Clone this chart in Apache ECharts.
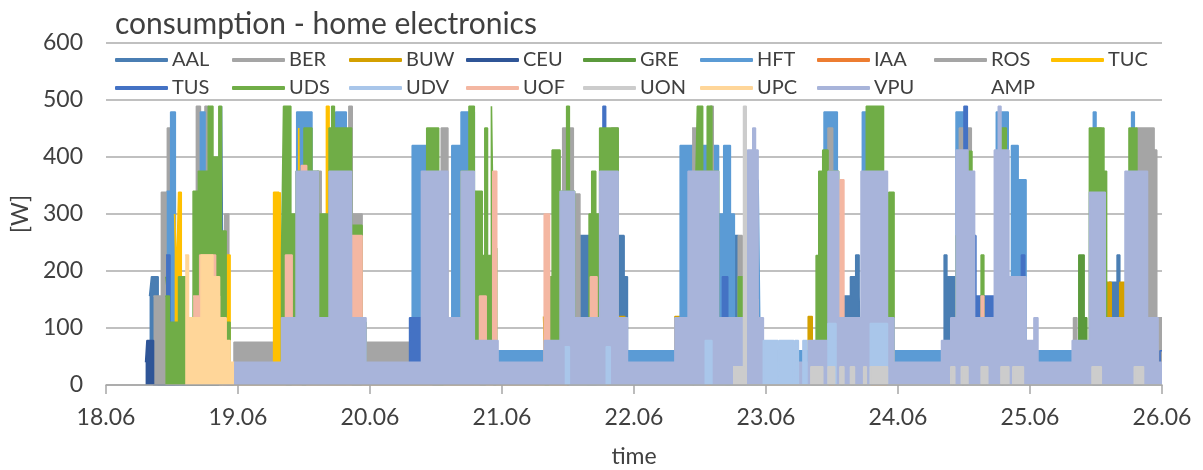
<!DOCTYPE html>
<html>
<head>
<meta charset="utf-8">
<script src="https://cdn.jsdelivr.net/npm/echarts@6/dist/echarts.min.js"></script>
<style>
  html, body { margin: 0; padding: 0; background: #ffffff; }
  #chart { width: 1203px; height: 470px; }
</style>
</head>
<body>
<div id="chart"></div>
<script>
// x values are days counted from 18.06 00:00, y values are watts.
// Each pair [t, w] means: from time t on, the device draws w watts.
const DAY_LABELS = ['18.06', '19.06', '20.06', '21.06', '22.06', '23.06', '24.06', '25.06', '26.06'];
const SITES = ['AAL', 'BER', 'BUW', 'CEU', 'GRE', 'HFT', 'IAA', 'ROS', 'TUC',
               'TUS', 'UDS', 'UDV', 'UOF', 'UON', 'UPC', 'VPU', 'AMP'];

const AAL = [[0.33,156],[0.345,190],[0.395,0],[3.59,262],[3.665,227],[3.69,118],[3.72,0],
  [3.88,262],[3.925,190],[3.95,0],[4.745,262],[4.79,0],[5.59,156],[5.64,190],[5.68,228],
  [5.705,156],[5.72,0],[6.35,228],[6.37,190],[6.44,0],[7.60,180],[7.66,228],[7.68,0],[8,0]];
const BER = [[0.36,156],[0.42,338],[0.465,451],[0.485,338],[0.525,0],[0.57,190],[0.60,0],
  [0.685,489],[0.715,0],[0.75,489],[0.775,0],[0.90,300],[0.93,0],[0.97,75],[1.27,0],
  [1.60,375],[1.63,0],[1.84,489],[1.865,300],[1.94,0],[1.97,75],[2.30,0],[2.54,451],[2.59,0],
  [3.46,451],[3.54,0],[3.55,335],[3.59,0],[3.83,451],[3.88,0],[8,0]];
const BUW = [[3.315,120],[3.33,0],[3.89,120],[3.93,0],[4.31,120],[4.35,0],[5.32,120],[5.35,0],
  [5.91,120],[5.93,0],[6.61,120],[6.63,0],[7.57,180],[7.615,100],[7.68,180],[7.72,0],[8,0]];
const CEU = [[0.30,40],[0.31,78],[0.36,0],[8,0]];
const GRE = [[0.455,190],[0.47,150],[0.52,0],[7.37,228],[7.41,118],[7.43,0],[8,0]];
const HFT = [[0.46,340],[0.49,479],[0.525,0],[0.715,479],[0.75,0],[1.445,479],[1.56,0],
  [1.74,479],[1.82,0],[2.32,420],[2.43,0],[2.62,420],[2.69,479],[2.79,0],[2.97,60],
  [4.35,420],[4.48,60],[4.52,420],[4.64,300],[4.68,420],[4.73,300],[4.76,60],[4.94,360],
  [4.955,60],[5.44,479],[5.54,60],[5.73,479],[5.78,60],[6.44,479],[6.50,60],[6.745,479],
  [6.835,60],[6.86,420],[6.91,360],[6.97,60],[7.48,479],[7.50,60],[7.77,479],[7.79,60],[8,60]];
const IAA = [];
const ROS = [[4.44,451],[4.48,0],[4.58,489],[4.60,0],[4.79,262],[4.82,0],[5.47,451],[5.505,0],
  [6.465,451],[6.555,0],[7.33,118],[7.355,0],[7.49,451],[7.54,0],[7.81,451],[7.94,412],
  [7.96,118],[8,118]];
const TUC = [[0.52,300],[0.535,190],[0.55,338],[0.57,118],[0.60,0],[0.91,228],[0.94,0],
  [1.27,338],[1.31,190],[1.32,338],[1.335,0],[1.46,451],[1.475,0],[1.60,190],[1.63,0],
  [1.67,489],[1.69,190],[1.70,0],[8,0]];
const TUS = [[0.455,228],[0.485,0],[0.55,78],[0.585,0],[0.875,489],[0.89,0],[2.30,118],[2.39,0],
  [3.765,489],[3.785,0],[4.67,190],[4.71,0],[6.50,489],[6.525,0],[6.57,262],[6.59,156],
  [6.74,0],[6.935,228],[6.96,0],[7.985,60],[8,60]];
const UDS = [[0.45,156],[0.48,110],[0.55,190],[0.62,110],[0.66,340],[0.70,375],[0.775,489],
  [0.81,400],[0.855,489],[0.875,270],[0.91,110],[0.94,0],
  [1.33,228],[1.345,489],[1.40,300],[1.44,375],[1.50,451],[1.56,375],[1.61,300],[1.69,451],
  [1.71,489],[1.73,451],[1.86,280],[1.94,110],[1.97,0],
  [2.43,451],[2.52,0],[2.69,375],[2.75,489],[2.79,340],[2.85,227],[2.87,451],[2.89,227],
  [2.92,489],[2.935,240],[2.96,0],
  [3.36,190],[3.38,412],[3.44,340],[3.49,489],[3.51,340],[3.55,0],[3.66,300],[3.68,375],
  [3.71,300],[3.74,451],[3.88,0],
  [4.47,375],[4.48,489],[4.52,375],[4.555,489],[4.59,375],[4.64,0],[4.79,190],[4.83,0],
  [5.38,227],[5.40,375],[5.43,412],[5.47,375],[5.55,0],[5.74,375],[5.76,489],[5.89,265],
  [5.93,338],[5.97,0],
  [6.44,262],[6.48,410],[6.56,0],[6.63,228],[6.65,0],[6.78,451],[6.82,0],
  [7.45,451],[7.56,375],[7.58,0],[7.75,451],[7.81,0],[8,0]];
const UDV = [[3.475,67],[3.51,0],[3.79,67],[3.82,0],[4.54,78],[4.59,0],[4.98,78],[5.09,0],
  [5.10,78],[5.21,0],[5.22,78],[5.245,0],[5.28,78],[5.31,0],[5.47,108],[5.53,0],[5.79,108],
  [5.92,0],[8,0]];
const UOF = [[0.66,156],[0.71,228],[0.83,156],[0.86,0],[1.36,228],[1.41,0],[1.48,385],[1.52,0],
  [1.86,262],[1.94,0],[2.47,110],[2.56,0],[2.83,156],[2.88,0],[2.93,375],[2.96,0],[3.32,300],
  [3.36,0],[3.49,140],[3.51,0],[3.64,110],[3.67,190],[3.72,0],[4.44,110],[4.46,0],[4.69,118],
  [4.73,0],[4.88,150],[4.94,0],[5.56,360],[5.59,0],[6.48,262],[6.50,0],[6.63,156],[6.65,0],
  [6.77,110],[6.80,0],[7.47,110],[7.54,0],[7.78,110],[7.85,0],[7.89,118],[7.91,0],[8,0]];
const UON = [[4.75,32],[4.83,489],[4.85,0],[5.34,32],[5.43,0],[5.47,32],[5.52,0],[5.56,32],
  [5.59,0],[5.64,32],[5.67,0],[5.74,32],[5.76,0],[5.79,32],[5.92,0],[6.40,32],[6.43,0],
  [6.48,32],[6.53,0],[6.63,32],[6.68,0],[6.78,32],[6.84,0],[6.87,32],[6.95,0],[7.47,32],
  [7.54,0],[7.79,32],[7.86,0],[8,0]];
const UPC = [[0.60,228],[0.625,118],[0.72,228],[0.81,190],[0.86,118],[0.91,78],[0.94,40],
  [0.97,0],[8,0]];
const VPU = [[0.97,40],[1.33,118],[1.44,375],[1.61,118],[1.69,375],[1.86,118],[1.97,40],
  [2.39,375],[2.59,118],[2.69,375],[2.79,78],[2.97,40],[3.32,78],[3.44,340],[3.55,118],
  [3.74,375],[3.88,118],[3.95,40],[4.31,118],[4.41,375],[4.64,118],[4.86,412],[4.90,451],
  [4.92,412],[4.94,118],[4.98,40],[5.32,78],[5.47,375],[5.55,118],[5.72,375],[5.92,118],
  [5.97,40],[6.33,78],[6.40,118],[6.44,412],[6.53,375],[6.58,118],[6.73,412],[6.76,489],
  [6.78,412],[6.84,190],[6.97,78],[7.03,118],[7.06,40],[7.32,78],[7.45,338],[7.57,118],
  [7.72,375],[7.89,118],[7.97,40],[8,40]];
const AMP = [];

const SITE_DATA = { AAL, BER, BUW, CEU, GRE, HFT, IAA, ROS, TUC, TUS, UDS, UDV, UOF, UON, UPC, VPU, AMP };

const SITE_COLORS = {
  AAL: '#4A7EB3', BER: '#A5A5A5', BUW: '#D4A000', CEU: '#2F5597', GRE: '#5B9A3C',
  HFT: '#5B9BD5', IAA: '#ED7D31', ROS: '#A5A5A5', TUC: '#FFC000', TUS: '#4472C4',
  UDS: '#70AD47', UDV: '#A9C6EA', UOF: '#F4B7A2', UON: '#CCCCCC', UPC: '#FFD699',
  VPU: '#A8B4DA', AMP: 'rgba(255,255,255,0)'
};

const FONT = 'Lato, "Open Sans", sans-serif';
const chart = echarts.init(document.getElementById('chart'), null, { renderer: 'canvas' });

// every site gets its own layer so its fill hides the sites drawn before it;
// the pale overlays (UDV, UON) sit in front of the VPU fill
const series = SITES.map((name, i) => ({
  name,
  type: 'line',
  step: 'end',
  data: SITE_DATA[name],
  symbol: 'none',
  showSymbol: false,
  silent: true,
  z: (name === 'UDV' || name === 'UON') ? 60 + i : 10 + i,
  color: SITE_COLORS[name],
  lineStyle: { width: 1.6, color: SITE_COLORS[name] },
  areaStyle: { color: SITE_COLORS[name], opacity: 1 }
}));

// one legend block per site, nine per row
const legends = SITES.map((name, i) => ({
  data: [name],
  left: 115 + (i % 9) * 117,
  top: i < 9 ? 50 : 78,
  icon: 'roundRect',
  itemWidth: 53,
  itemHeight: 4,
  itemGap: 0,
  padding: 0,
  selectedMode: false,
  textStyle: { fontFamily: FONT, fontSize: 20, color: '#404040', padding: [0, 0, 0, -1] }
}));

chart.setOption({
  animation: false,
  backgroundColor: '#ffffff',
  title: {
    text: 'consumption - home electronics',
    left: 110,
    top: 4,
    textStyle: { fontFamily: FONT, fontSize: 30, fontWeight: 'normal', color: '#404040' }
  },
  legend: legends,
  grid: { left: 106, right: 41, top: 43, bottom: 85, containLabel: false, outerBoundsMode: 'none' },
  xAxis: {
    type: 'value',
    min: 0,
    max: 8,
    interval: 1,
    z: 200,
    name: 'time',
    nameLocation: 'middle',
    nameGap: 60,
    nameMoveOverlap: false,
    nameTextStyle: { fontFamily: FONT, fontSize: 23, color: '#404040' },
    axisLine: { show: true, lineStyle: { color: '#A6A6A6', width: 1.5 } },
    axisTick: { show: true, length: 9, lineStyle: { color: '#A6A6A6', width: 1.5 } },
    axisLabel: {
      fontFamily: FONT, fontSize: 23, color: '#404040', margin: 21,
      formatter: v => DAY_LABELS[Math.round(v)]
    },
    splitLine: { show: false }
  },
  yAxis: {
    type: 'value',
    min: 0,
    max: 600,
    interval: 100,
    name: '[W]',
    nameLocation: 'middle',
    nameRotate: 90,
    nameGap: 74,
    nameMoveOverlap: false,
    nameTextStyle: { fontFamily: FONT, fontSize: 23, color: '#404040' },
    axisLine: { show: false },
    axisTick: { show: false },
    axisLabel: { fontFamily: FONT, fontSize: 23, color: '#404040', margin: 23 },
    splitLine: { show: true, lineStyle: { color: '#ABABAB', width: 1.5 } }
  },
  series
});
</script>
</body>
</html>
